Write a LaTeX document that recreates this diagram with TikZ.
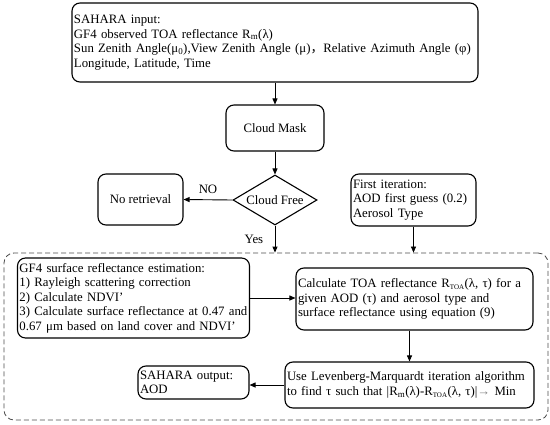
\documentclass[tikz,border=0pt]{standalone}
\usepackage{fontspec}
\setmainfont{Liberation Serif}
\newfontfamily\cjk{Noto Sans CJK SC}
\usetikzlibrary{arrows.meta,shapes.geometric,positioning}

\newcommand{\Rm}{R\textsubscript{m}}
\newcommand{\Rtoa}{R\textsubscript{\scriptsize TOA}}

\begin{document}
\begin{tikzpicture}
	[x=1pt,y=-1pt,>={Triangle[length=6pt,width=5pt]},font=\fontsize{12.8}{14.5}\selectfont,
		flow/.style={->,line width=0.9pt},
		textbox/.style={draw,rounded corners=8pt,line width=1.1pt,align=left,inner xsep=2pt,inner ysep=0pt},
		plainbox/.style={textbox,align=center},
		decision/.style={diamond,draw,line width=1.1pt,aspect=1.68,inner sep=0pt,minimum width=84pt,minimum height=50pt},
		loopframe/.style={draw,gray!60!black,dash pattern=on 5pt off 3pt,line width=0.8pt,rounded corners=10pt}]

	\useasboundingbox (0,0) rectangle (550,424);

	% top part
	\node[textbox, minimum width=406pt, minimum height=79pt, text width=402pt] (input) at (275,42.5)
		{SAHARA input:\\
		GF4 observed TOA reflectance \Rm(λ)\\
		\mbox{Sun Zenith Angle(μ\textsubscript{0}),View Zenith Angle (μ){\cjk ，}Relative Azimuth Angle (φ)}\\
		Longitude, Latitude, Time};
	\node[plainbox, minimum width=98pt, minimum height=46pt] (mask) at (275,128) {Cloud Mask};
	\node[decision] (free) at (275,200) {Cloud Free};
	\node[plainbox, minimum width=85pt, minimum height=51pt] (noret) at (140.5,199.5) {No retrieval};
	\node[textbox, minimum width=125pt, minimum height=52pt, text width=121pt] (first) at (413.5,200)
		{First iteration:\\ AOD first guess (0.2)\\ Aerosol Type};

	% retrieval loop
	\node[loopframe, minimum width=544pt, minimum height=167pt] (loop) at (276,336.5) {};
	\node[textbox, minimum width=232pt, minimum height=80pt, text width=228pt] (gf) at (133.5,298)
		{GF4 surface reflectance estimation:\\
		1) Rayleigh scattering correction\\
		2) Calculate NDVI’\\
		\mbox{3) Calculate surface reflectance at 0.47 and}\\
		\mbox{0.67 μm based on land cover and NDVI’}};
	\node[textbox, minimum width=237pt, minimum height=62pt, text width=233pt] (toa) at (414.5,299)
		{Calculate TOA reflectance \Rtoa(λ, τ) for a\\
		given AOD (τ) and aerosol type and\\
		surface reflectance using equation (9)};
	\node[textbox, minimum width=249pt, minimum height=46pt, text width=245pt] (lm) at (409.5,385)
		{\mbox{Use Levenberg-Marquardt iteration algorithm}\\
		\mbox{to find τ such that |\Rm(λ)-\Rtoa(λ, τ)|{\color{gray}→} Min}};
	\node[textbox, minimum width=111pt, minimum height=33pt, text width=107pt] (out) at (193.5,382.5)
		{SAHARA output:\\ AOD};

	\draw[flow] (input) -- (mask);
	\draw[flow] (mask) -- (free);
	\draw[flow] (free.west) -- node[above=2pt] {NO} (noret.east);
	\draw[flow] (free.south) -- node[left=8pt] {Yes} (free |- loop.north);
	\draw[->,line width=0.6pt] (first.south) -- (first |- loop.north);
	\draw[flow] (gf.east) -- (toa.west |- gf.east);
	\draw[flow] (toa.south -| lm) -- (lm.north);
	\draw[flow] (lm.west) -- (out.east |- lm.west);

\end{tikzpicture}
\end{document}
